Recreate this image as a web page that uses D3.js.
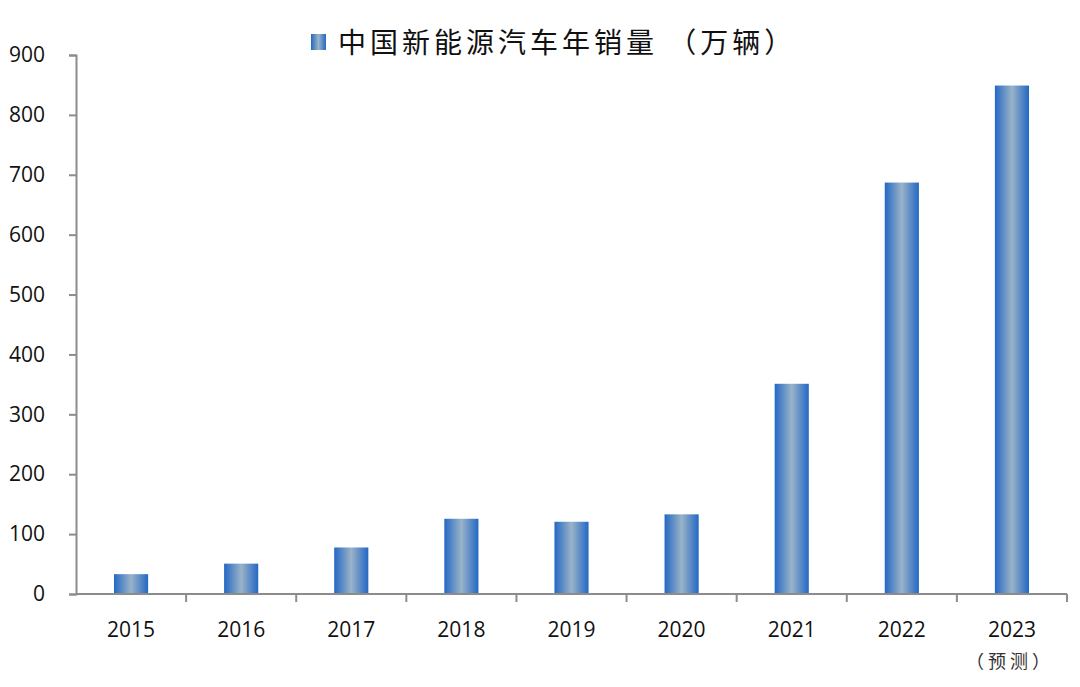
<!DOCTYPE html>
<html><head><meta charset="utf-8">
<script src="https://cdn.jsdelivr.net/npm/d3@7"></script>
<style>body{margin:0;background:#fff}</style>
</head><body>
<script>
const categories = ["2015","2016","2017","2018","2019","2020","2021","2022","2023"];
const values = [33.1, 50.7, 77.7, 125.6, 120.6, 133, 351, 687, 849];
const yTicks = [0,100,200,300,400,500,600,700,800,900];
const titleText = "中国新能源汽车年销量 （万辆）";
const noteText = "（预测）";

const W = 1080, H = 687;
const svg = d3.select("body").append("svg").attr("width", W).attr("height", H);
const defs = svg.append("defs");
const g = defs.append("linearGradient").attr("id","barGrad").attr("x1","0").attr("x2","1").attr("y1","0").attr("y2","0");
g.append("stop").attr("offset","0%").attr("stop-color","#2468c4");
g.append("stop").attr("offset","50%").attr("stop-color","#9ab3c8");
g.append("stop").attr("offset","100%").attr("stop-color","#2468c4");

const x = d3.scaleBand().domain(categories).range([76, 1067]).paddingInner(0).paddingOuter(0);
const y = d3.scaleLinear().domain([0, 900]).range([594, 55]);

// bars
const bw = x.bandwidth() * 0.31;
svg.selectAll("rect.bar").data(values).enter().append("rect")
  .attr("class","bar")
  .attr("x", (d,i) => x(categories[i]) + x.bandwidth()/2 - bw/2)
  .attr("y", d => y(d))
  .attr("width", bw)
  .attr("height", d => y(0) - y(d))
  .attr("fill","url(#barGrad)");

const numFont = "'Open Sans', 'Liberation Sans', sans-serif";

// y axis
const yAxis = d3.axisLeft(y).tickValues(yTicks).tickSize(7).tickPadding(24);
const ya = svg.append("g").attr("transform","translate(76,0)").call(yAxis);
ya.select(".domain").attr("stroke","#8c8c8c").attr("stroke-width",2);
ya.selectAll(".tick line").attr("stroke","#8c8c8c").attr("stroke-width",2);
ya.selectAll(".tick text").attr("fill","#111").style("font-family",numFont).style("font-size","21px");

// x axis
const xa = svg.append("g").attr("transform","translate(0,594)");
xa.append("line").attr("x1",76).attr("x2",1067).attr("y1",0).attr("y2",0).attr("stroke","#8c8c8c").attr("stroke-width",2);
const bounds = categories.map(c => x(c)).concat([x.range()[1]]);
xa.selectAll("line.tk").data(bounds.slice(1)).enter().append("line")
  .attr("class","tk").attr("x1",d=>d).attr("x2",d=>d).attr("y1",0).attr("y2",8)
  .attr("stroke","#8c8c8c").attr("stroke-width",2);
xa.selectAll("text.lbl").data(categories).enter().append("text")
  .attr("class","lbl")
  .attr("x", c => x(c) + x.bandwidth()/2)
  .attr("y", 43)
  .attr("text-anchor","middle")
  .attr("fill","#111")
  .style("font-family",numFont)
  .style("font-size","21px")
  .text(c => c);
svg.append("text")
  .attr("x", x("2023") + x.bandwidth()/2 - 2)
  .attr("y", 668)
  .attr("text-anchor","middle")
  .attr("fill","#333")
  .style("font-family","'Noto Sans CJK SC', sans-serif")
  .style("font-size","18px")
  .style("letter-spacing","4px")
  .text(noteText);

// title / legend
svg.append("rect").attr("x",311).attr("y",34).attr("width",15).attr("height",16).attr("fill","url(#barGrad)");
svg.append("text")
  .attr("x",338).attr("y",53)
  .attr("fill","#111")
  .style("font-family","'Noto Sans CJK SC', sans-serif")
  .style("font-size","28px")
  .style("letter-spacing","4px")
  .text(titleText);
</script>
</body></html>
